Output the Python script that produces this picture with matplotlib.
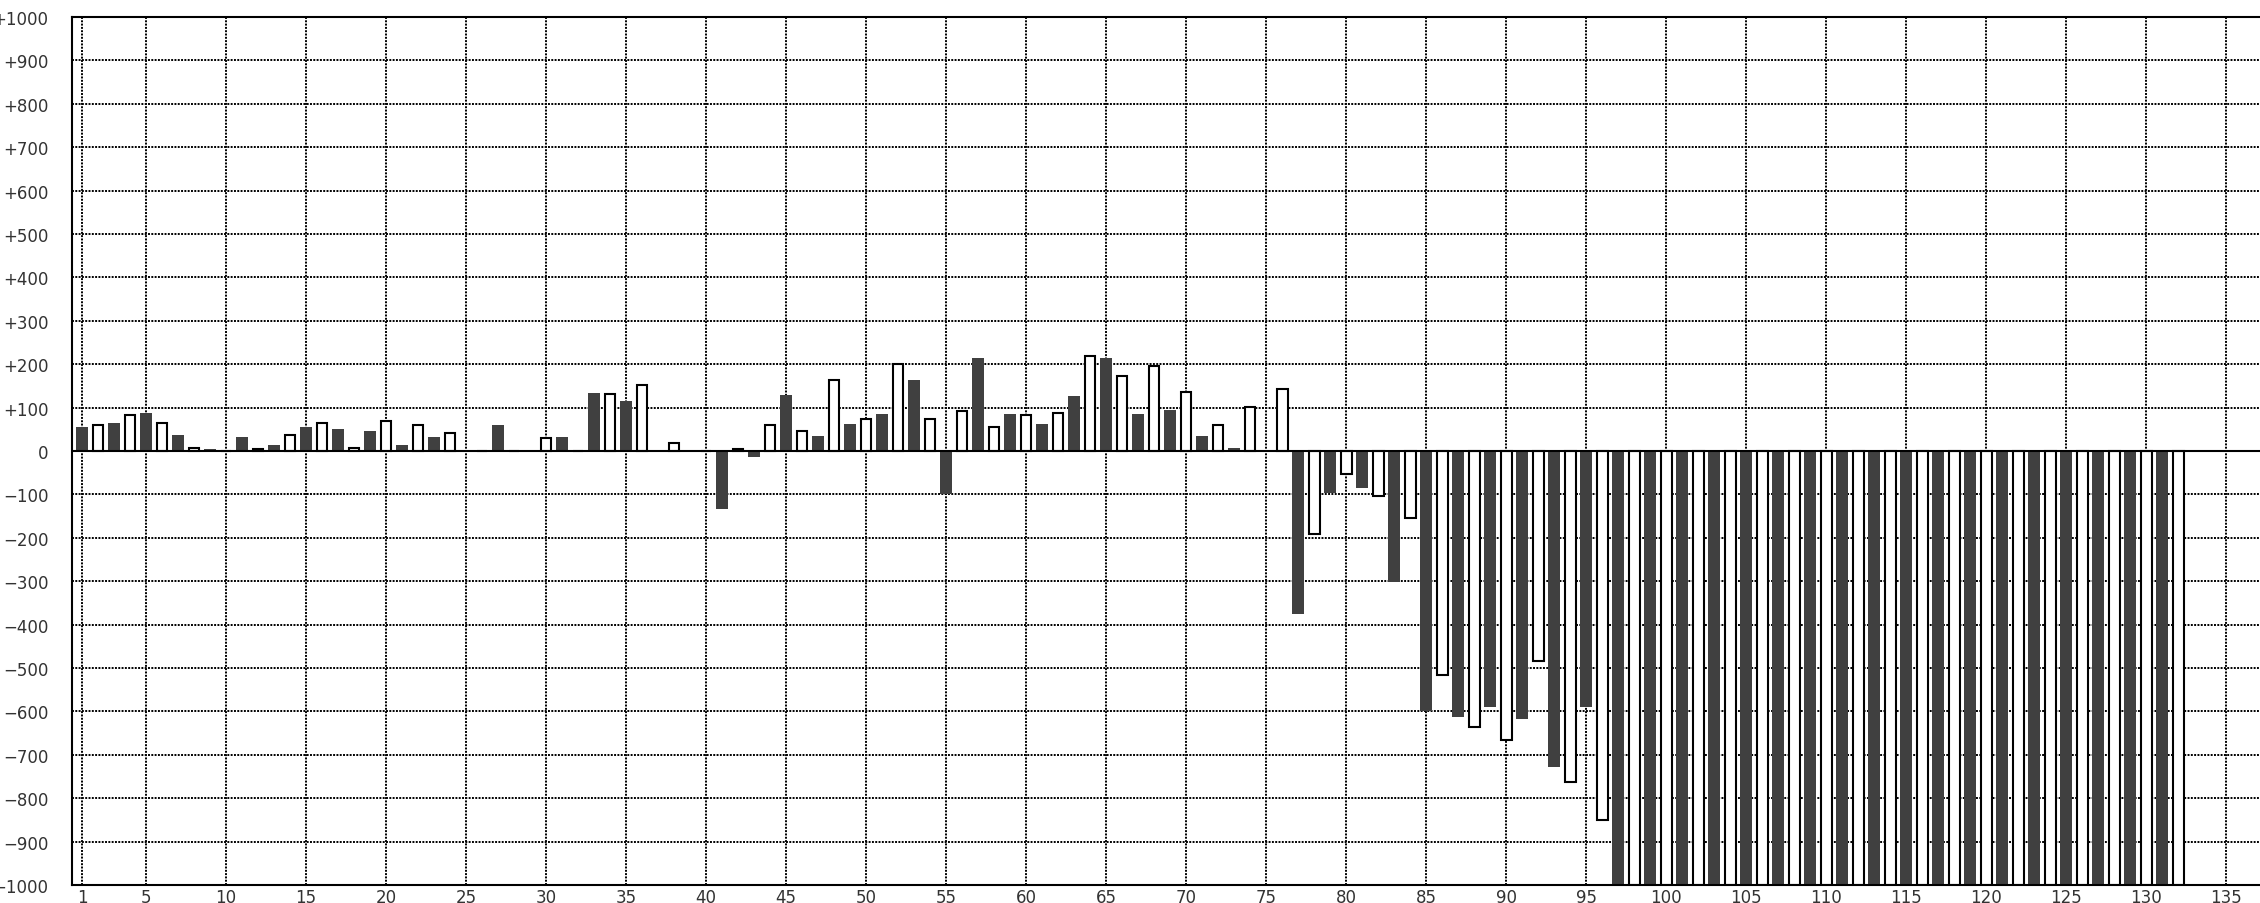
import numpy as np
import matplotlib
matplotlib.use("Agg")
import matplotlib.pyplot as plt

# Valores das barras (posição 1..132); barras 97+ ficam abaixo de -1000
valores = [
    55, 60, 65, 83, 88, 65, 37, 8, 5, 0,
    32, 5, 14, 36, 55, 65, 51, 8, 46, 68,
    14, 60, 32, 42, 0, 0, 60, 0, 0, 31,
    32, 0, 134, 132, 115, 152, 0, 18, 0, 0,
    -133, 4, -14, 60, 129, 46, 34, 163, 62, 74,
    85, 200, 164, 74, -99, 93, 215, 56, 85, 84,
    62, 88, 127, 219, 215, 172, 85, 195, 95, 135,
    34, 60, 6, 102, 0, 144, -375, -191, -97, -53,
    -86, -104, -302, -154, -600, -517, -614, -635, -591, -667,
    -618, -484, -729, -763, -591, -850,
] + [-1000] * 36

x_ticks = [1] + list(range(5, 140, 5))
y_ticks = list(range(-1000, 1001, 100))
y_labels = ["0" if v == 0 else (f"+{v}" if v > 0 else f"\u2212{-v}") for v in y_ticks]

valores = np.array(valores)
pos = np.arange(1, len(valores) + 1)
impar = pos % 2 == 1

fig = plt.figure(figsize=(22.6, 9.04), dpi=100)
ax = fig.add_axes([72 / 2260, 18 / 904, 1 - 72 / 2260, 868 / 904])

# Barras escuras (ímpares) e brancas com contorno (pares)
ax.bar(pos[impar], valores[impar], width=0.75, color="#404040", linewidth=0, zorder=2)
ax.bar(pos[~impar], valores[~impar], width=0.66, color="white",
       edgecolor="black", linewidth=1.5, zorder=2)

ax.axhline(0, color="black", linewidth=1.5, zorder=3)

ax.set_xlim(0.375, 137.1)
ax.set_ylim(-1000, 1000)
ax.set_xticks(x_ticks)
ax.set_yticks(y_ticks)
ax.set_yticklabels(y_labels)

ax.set_axisbelow(True)
ax.grid(True, color="black", linewidth=1.4, linestyle=(0, (1, 0.7)))

ax.tick_params(axis="both", length=0, labelsize=12, labelcolor="#333333")
ax.tick_params(axis="y", pad=17)
ax.tick_params(axis="x", pad=2)

for lado in ["left", "top", "bottom"]:
    ax.spines[lado].set_linewidth(1.5)
ax.spines["right"].set_visible(False)

fig.savefig("out.png", dpi=100)
